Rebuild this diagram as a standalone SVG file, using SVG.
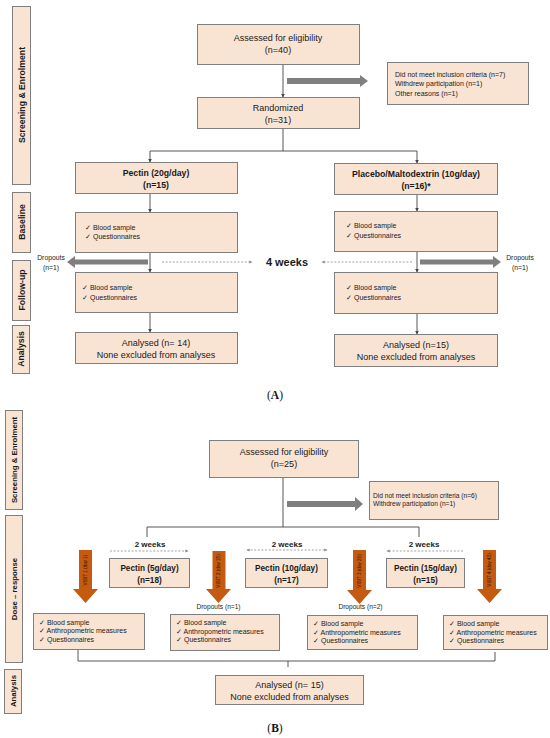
<svg xmlns="http://www.w3.org/2000/svg" width="550" height="738" viewBox="0 0 550 738">
<style>
.box{fill:#f9e3d3;stroke:#7f7f7f;stroke-width:1}
.bar{fill:#f9e3d3;stroke:#7f7f7f;stroke-width:1}
.t{font-family:"Liberation Sans",Arial,sans-serif;fill:#1a1a1a}
.c{text-anchor:middle}
.b{font-weight:bold}
.ln{stroke:#444;stroke-width:0.9;fill:none}
.dash{stroke:#8c8c8c;stroke-width:0.8;stroke-dasharray:2,1.6;fill:none}
.garrow{fill:#7f7f7f}
.oarrow{fill:#c55a11}
.vt{font-family:"Liberation Sans",Arial,sans-serif;font-size:4.6px;fill:#2a1200;text-anchor:middle}
</style>
<defs>
<marker id="ah" viewBox="0 0 6 6" refX="5" refY="3" markerWidth="4" markerHeight="4" orient="auto"><path d="M0,0 L6,3 L0,6 z" fill="#444"/></marker>
<marker id="dh" viewBox="0 0 6 6" refX="5" refY="3" markerWidth="4" markerHeight="4" orient="auto-start-reverse"><path d="M0,0 L6,3 L0,6 z" fill="#8c8c8c"/></marker>
</defs>
<rect width="550" height="738" fill="#ffffff"/>

<!-- ============ PART A ============ -->
<g id="stageA">
<rect class="bar" x="12.5" y="6.5" width="18" height="178"/>
<text class="t b c" font-size="8.7" transform="translate(24.5,95) rotate(-90)">Screening &amp; Enrolment</text>
<rect class="bar" x="12.5" y="192.5" width="18" height="60"/>
<text class="t b c" font-size="8.7" transform="translate(24.5,222) rotate(-90)">Baseline</text>
<rect class="bar" x="12.5" y="260.5" width="18" height="60"/>
<text class="t b c" font-size="8.7" transform="translate(24.5,290) rotate(-90)">Follow-up</text>
<rect class="bar" x="12.5" y="325.5" width="17" height="48"/>
<text class="t b c" font-size="8.7" transform="translate(24,349) rotate(-90)">Analysis</text>
</g>

<g id="connectorsA">
<line class="ln" x1="283" y1="64" x2="283" y2="97" marker-end="url(#ah)"/>
<polyline class="ln" points="283,128 283,151 150,151 150,162" marker-end="url(#ah)"/>
<polyline class="ln" points="283,151 417,151 417,163" marker-end="url(#ah)"/>
<line class="ln" x1="150" y1="193" x2="150" y2="212" marker-end="url(#ah)"/>
<line class="ln" x1="150" y1="252" x2="150" y2="272" marker-end="url(#ah)"/>
<line class="ln" x1="150" y1="312" x2="150" y2="332" marker-end="url(#ah)"/>
<line class="ln" x1="417" y1="194" x2="417" y2="211" marker-end="url(#ah)"/>
<line class="ln" x1="417" y1="251" x2="417" y2="272" marker-end="url(#ah)"/>
<line class="ln" x1="417" y1="313" x2="417" y2="334" marker-end="url(#ah)"/>
<polygon class="garrow" points="287,78 360,78 360,75 368,81 360,87 360,84 287,84"/>
<polygon class="garrow" points="148,259.5 75,259.5 75,256 67,262 75,268 75,264.5 148,264.5"/>
<polygon class="garrow" points="420,259.5 493,259.5 493,256 501,262 493,268 493,264.5 420,264.5"/>
<line class="dash" x1="162" y1="262" x2="252" y2="262" marker-end="url(#dh)"/>
<line class="dash" x1="412" y1="262" x2="322" y2="262" marker-end="url(#dh)"/>
</g>

<g id="assessedA">
<rect class="box" x="197.5" y="24.5" width="162" height="40"/>
<text class="t c" font-size="9" x="278" y="40.5">Assessed for eligibility</text>
<text class="t c" font-size="9" x="278" y="53">(n=40)</text>
</g>
<g id="exclusionA">
<rect class="box" x="387.5" y="62.5" width="141" height="42"/>
<text class="t" font-size="7" x="395" y="76.5">Did not meet inclusion criteria (n=7)</text>
<text class="t" font-size="7" x="395" y="86">Withdrew participation (n=1)</text>
<text class="t" font-size="7" x="395" y="95.5">Other reasons (n=1)</text>
</g>
<g id="randomized">
<rect class="box" x="197.5" y="97.5" width="162" height="31"/>
<text class="t c" font-size="9" x="278" y="111">Randomized</text>
<text class="t c" font-size="9" x="278" y="122.5">(n=31)</text>
</g>
<g id="pectinA">
<rect class="box" x="75.5" y="162.5" width="162" height="31"/>
<text class="t c b" font-size="8.7" x="156" y="176">Pectin (20g/day)</text>
<text class="t c b" font-size="8.7" x="156" y="187.5">(n=15)</text>
</g>
<g id="placebo">
<rect class="box" x="334.5" y="163.5" width="163" height="31"/>
<text class="t c b" font-size="8.7" x="416" y="177">Placebo/Maltodextrin (10g/day)</text>
<text class="t c b" font-size="8.7" x="416" y="188.5">(n=16)*</text>
</g>
<g id="baselineL">
<rect class="box" x="75.5" y="212.5" width="162" height="40"/>
<text class="t" font-size="7" x="85" y="229.5">✓ Blood sample</text>
<text class="t" font-size="7" x="85" y="238.5">✓ Questionnaires</text>
</g>
<g id="baselineR">
<rect class="box" x="334.5" y="211.5" width="163" height="40"/>
<text class="t" font-size="7" x="346" y="227.5">✓ Blood sample</text>
<text class="t" font-size="7" x="346" y="237.5">✓ Questionnaires</text>
</g>
<g id="followL">
<rect class="box" x="75.5" y="272.5" width="162" height="40"/>
<text class="t" font-size="7" x="82" y="289.5">✓ Blood sample</text>
<text class="t" font-size="7" x="82" y="299.5">✓ Questionnaires</text>
</g>
<g id="followR">
<rect class="box" x="334.5" y="272.5" width="163" height="41"/>
<text class="t" font-size="7" x="346" y="289.5">✓ Blood sample</text>
<text class="t" font-size="7" x="346" y="299.5">✓ Questionnaires</text>
</g>
<g id="analysedL">
<rect class="box" x="75.5" y="332.5" width="162" height="31"/>
<text class="t c" font-size="9" x="156" y="346">Analysed (n= 14)</text>
<text class="t c" font-size="9" x="156" y="357.5">None excluded from analyses</text>
</g>
<g id="analysedR">
<rect class="box" x="334.5" y="334.5" width="163" height="32"/>
<text class="t c" font-size="9" x="416" y="348">Analysed (n=15)</text>
<text class="t c" font-size="9" x="416" y="359.5">None excluded from analyses</text>
</g>
<g id="labelsA">
<text class="t c" font-size="6.8" x="51" y="259.5">Dropouts</text>
<text class="t c" font-size="6.8" x="51" y="269.5">(n=1)</text>
<text class="t c" font-size="6.8" x="520" y="259.5">Dropouts</text>
<text class="t c" font-size="6.8" x="520" y="269.5">(n=1)</text>
<text class="t c b" font-size="11" x="287" y="266">4 weeks</text>
<text font-family="Liberation Serif,serif" font-size="11.5" text-anchor="middle" x="275" y="399" fill="#111">(<tspan font-weight="bold">A</tspan>)</text>
</g>

<!-- ============ PART B ============ -->
<g id="stageB">
<rect class="bar" x="5.5" y="410.5" width="17" height="99"/>
<text class="t b c" font-size="7.8" transform="translate(16.5,460) rotate(-90)">Screening &amp; Enrolment</text>
<rect class="bar" x="5.5" y="515.5" width="17" height="147"/>
<text class="t b c" font-size="7.8" transform="translate(16.5,589) rotate(-90)">Dose – response</text>
<rect class="bar" x="4.5" y="669.5" width="17" height="44"/>
<text class="t b c" font-size="7.8" transform="translate(15.5,691) rotate(-90)">Analysis</text>
</g>

<g id="connectorsB">
<line class="ln" x1="283" y1="477" x2="283" y2="527"/>
<polyline class="ln" points="147,537 147,527 419,527 419,537"/>
<polygon class="garrow" points="287,501 355,501 355,497 363,504 355,511 355,507 287,507"/>
<line class="dash" x1="110" y1="551" x2="188" y2="551" marker-end="url(#dh)"/>
<line class="dash" x1="247" y1="550" x2="327" y2="550" marker-start="url(#dh)" marker-end="url(#dh)"/>
<line class="dash" x1="463" y1="551" x2="387" y2="551" marker-end="url(#dh)"/>
<polyline class="ln" points="78,650 78,661 495,661 495,652"/>
<line class="ln" x1="288" y1="661" x2="288" y2="667"/>
</g>

<g id="assessedB">
<rect class="box" x="209.5" y="440.5" width="149" height="37"/>
<text class="t c" font-size="9" x="284" y="455">Assessed for eligibility</text>
<text class="t c" font-size="9" x="284" y="466.5">(n=25)</text>
</g>
<g id="exclusionB">
<rect class="box" x="369.5" y="481.5" width="129" height="38"/>
<text class="t" font-size="6.6" x="373" y="497.5">Did not meet inclusion criteria (n=6)</text>
<text class="t" font-size="6.6" x="373" y="506">Withdrew participation (n=1)</text>
</g>

<g id="weeksB">
<text class="t c b" font-size="8" x="150" y="547">2 weeks</text>
<text class="t c b" font-size="8" x="287" y="547">2 weeks</text>
<text class="t c b" font-size="8" x="424" y="547">2 weeks</text>
</g>

<g id="pectin5">
<rect class="box" x="109.5" y="558.5" width="80" height="29"/>
<text class="t c b" font-size="8.2" x="149.5" y="571">Pectin (5g/day)</text>
<text class="t c b" font-size="8.2" x="149.5" y="582.5">(n=18)</text>
</g>
<g id="pectin10">
<rect class="box" x="245.5" y="558.5" width="82" height="29"/>
<text class="t c b" font-size="8.2" x="286.5" y="571">Pectin (10g/day)</text>
<text class="t c b" font-size="8.2" x="286.5" y="582.5">(n=17)</text>
</g>
<g id="pectin15">
<rect class="box" x="386.5" y="558.5" width="78" height="29"/>
<text class="t c b" font-size="8.2" x="425.5" y="571">Pectin (15g/day)</text>
<text class="t c b" font-size="8.2" x="425.5" y="582.5">(n=15)</text>
</g>

<g id="visit1">
<polygon class="oarrow" points="79,550 92,550 92,589 98,589 85.5,603 73,589 79,589"/>
<text class="vt" transform="translate(87.2,570) rotate(-90)">VISIT 1 (day 1)</text>
</g>
<g id="visit2">
<polygon class="oarrow" points="212.5,551 225.5,551 225.5,589 231,589 218.5,603 206,589 212.5,589"/>
<text class="vt" transform="translate(220.2,571) rotate(-90)">VISIT 2 (day 15)</text>
</g>
<g id="visit3">
<polygon class="oarrow" points="353,550 366,550 366,590 372,590 359.5,604 347,590 353,590"/>
<text class="vt" transform="translate(361.2,571) rotate(-90)">VISIT 3 (day 29)</text>
</g>
<g id="visit4">
<polygon class="oarrow" points="483,550 496,550 496,589 502,589 489.5,603 477,589 483,589"/>
<text class="vt" transform="translate(491.2,570) rotate(-90)">VISIT 4 (day 43)</text>
</g>

<g id="dropoutsB">
<text class="t c" font-size="6.6" x="218.5" y="609">Dropouts (n=1)</text>
<text class="t c" font-size="6.6" x="360.5" y="609">Dropouts (n=2)</text>
</g>

<g id="visitBox1">
<rect class="box" x="33.5" y="613.5" width="111" height="36"/>
<text class="t" font-size="7" x="39" y="624.5">✓ Blood sample</text>
<text class="t" font-size="7" x="39" y="633">✓ Anthropometric measures</text>
<text class="t" font-size="7" x="39" y="641.5">✓ Questionnaires</text>
</g>
<g id="visitBox2">
<rect class="box" x="170.5" y="614.5" width="109" height="36"/>
<text class="t" font-size="7" x="176" y="625">✓ Blood sample</text>
<text class="t" font-size="7" x="176" y="633.5">✓ Anthropometric measures</text>
<text class="t" font-size="7" x="176" y="642">✓ Questionnaires</text>
</g>
<g id="visitBox3">
<rect class="box" x="307.5" y="615.5" width="110" height="34"/>
<text class="t" font-size="7" x="313" y="626">✓ Blood sample</text>
<text class="t" font-size="7" x="313" y="634.5">✓ Anthropometric measures</text>
<text class="t" font-size="7" x="313" y="643">✓ Questionnaires</text>
</g>
<g id="visitBox4">
<rect class="box" x="443.5" y="615.5" width="104" height="34"/>
<text class="t" font-size="7" x="449" y="626">✓ Blood sample</text>
<text class="t" font-size="7" x="449" y="634.5">✓ Anthropometric measures</text>
<text class="t" font-size="7" x="449" y="643">✓ Questionnaires</text>
</g>

<g id="analysedB">
<rect class="box" x="215.5" y="675.5" width="148" height="29"/>
<text class="t c" font-size="9" x="289.5" y="688">Analysed (n= 15)</text>
<text class="t c" font-size="9" x="289.5" y="699.5">None excluded from analyses</text>
</g>
<text font-family="Liberation Serif,serif" font-size="11.5" text-anchor="middle" x="275" y="732" fill="#111">(<tspan font-weight="bold">B</tspan>)</text>
</svg>
